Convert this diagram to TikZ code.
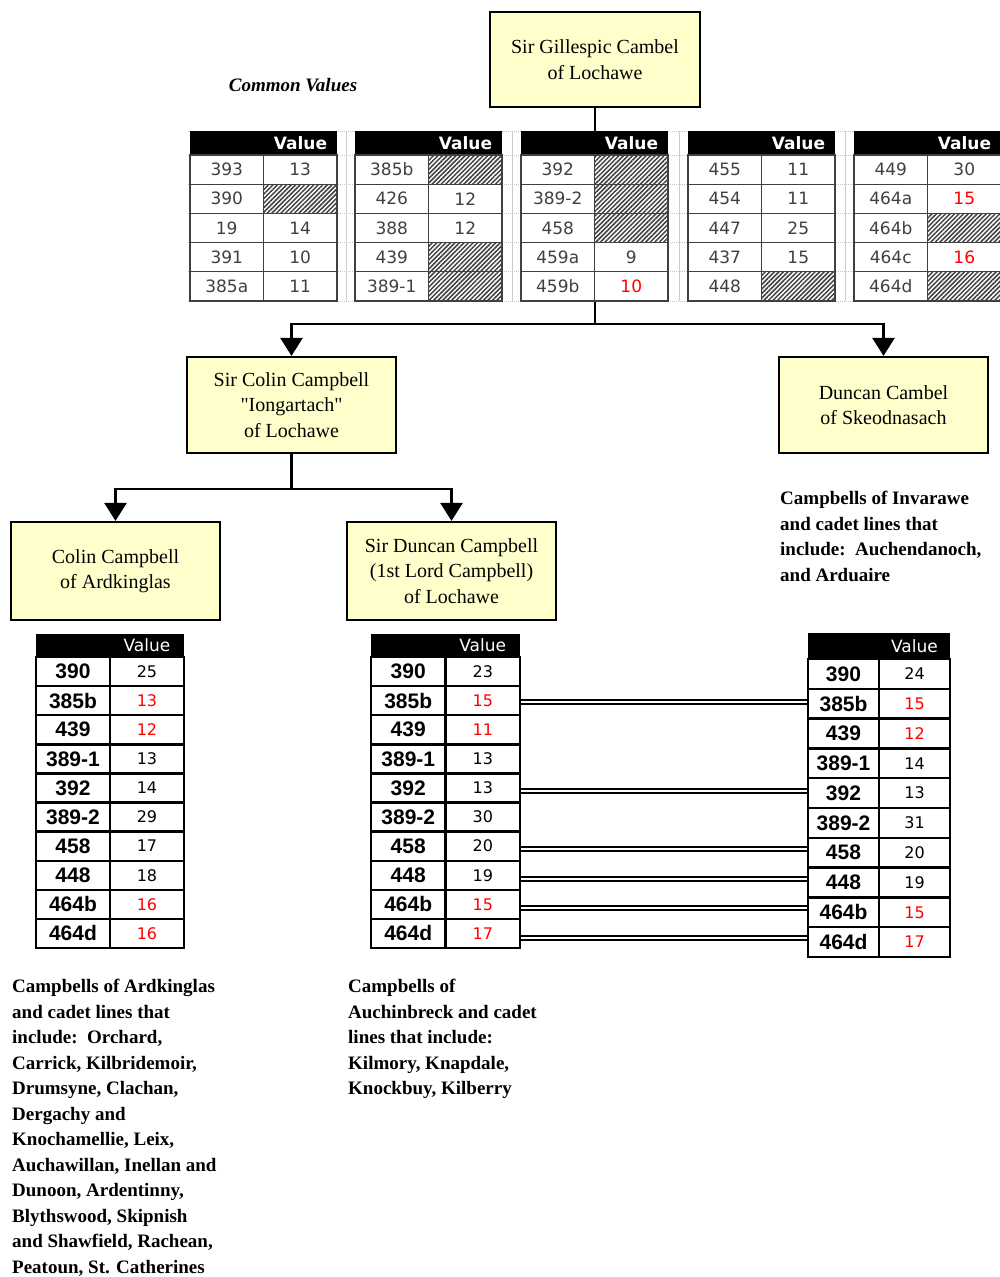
\documentclass[tikz,border=0pt]{standalone}
\usepackage{fontspec}
\setmainfont{Liberation Serif}
\newfontfamily\qfont{Liberation Serif}[Ligatures=ResetAll]
\newfontfamily\cellfont{DejaVu Sans}
\newfontfamily\labfont{Liberation Sans}
\usetikzlibrary{arrows.meta,patterns.meta,calc}
\definecolor{boxyellow}{RGB}{255,255,204}
\tikzset{
  person/.style={draw=black, line width=2.2pt, fill=boxyellow, align=center,
    font=\fontsize{20}{25.5}\selectfont, inner sep=0pt},
  conn/.style={line width=2.6pt},
  arr/.style={conn, -{Triangle[width=22pt,length=18pt]}},
  gridline/.style={gray!45, line width=0.8pt, dash pattern=on 1pt off 1pt},
  gridvert/.style={gray!40, line width=1pt},
  tophdr/.style={fill=black, minimum width=147pt, minimum height=24pt, inner sep=0pt},
  tophdrtxt/.style={text=white, inner sep=0pt, font=\cellfont\fontsize{17}{17}\selectfont\bfseries},
  topcell/.style={draw=black!75, line width=1.2pt, fill=white, minimum width=73.5pt,
    minimum height=29.2pt, inner sep=0pt, font=\cellfont\fontsize{17}{17}\selectfont, text=black!75},
  vk-n/.style={},
  vk-r/.style={text=red},
  vk-h/.style={preaction={fill=white}, pattern={Lines[angle=45,distance=3.2pt,line width=1.5pt]}, pattern color=black!75},
  lowhdr/.style={fill=black, inner sep=0pt},
  lowhdrtxt/.style={text=white, inner sep=0pt, font=\cellfont\fontsize{17}{17}\selectfont},
  lowlab/.style={draw=black, line width=2.4pt, fill=white, inner sep=0pt,
    font=\labfont\fontsize{21}{21}\selectfont\bfseries},
  lowval/.style={draw=black, line width=2.4pt, fill=white, inner sep=0pt,
    font=\cellfont\fontsize{16}{16}\selectfont, text=black},
  dbl/.style={line width=2pt, double, double distance=2pt},
  desc/.style={align=left, inner sep=0pt, anchor=north west, font=\fontsize{19}{25.5}\selectfont\bfseries},
}
\newcommand\TopTable[3]{%
  \node[tophdr] (#1h) at ({#2+73.5},143) {};
  \node[tophdrtxt] (#1hv) at ({#2+110.5},143) {Value};
  \foreach \lab/\val/\kind [count=\i] in {#3} {%
    \node[topcell] (#1l\i) at ({#2+36.75},{155+29.2*\i-14.6}) {\lab};
    \node[topcell, vk-\kind] (#1v\i) at ({#2+110.25},{155+29.2*\i-14.6}) {\val};
  }%
}
\newcommand\LowTable[7]{%
  \node[lowhdr, minimum width={2*#6}, minimum height=#4] (#1h) at ({#2+#6},{#3+#4/2}) {};
  \node[lowhdrtxt] (#1hv) at ({#2+1.5*#6},{#3+#4/2}) {Value};
  \foreach \lab/\val/\kind [count=\i] in {#7} {%
    \node[lowlab, minimum width=#6, minimum height=#5] (#1l\i) at ({#2+#6/2},{#3+#4+#5*(\i-0.5)}) {\lab};
    \node[lowval, vk-\kind, minimum width=#6, minimum height=#5] (#1v\i) at ({#2+1.5*#6},{#3+#4+#5*(\i-0.5)}) {\val};
  }%
}
\begin{document}
\begin{tikzpicture}[x=1pt,y=-1pt]
\useasboundingbox (0,0) rectangle (1000,1277);
% spreadsheet grid
\foreach \yy in {131,155,184.2,213.4,242.6,271.8,301}
  \draw[gridline] (188,\yy) -- (1000,\yy);
\foreach \xx in {346,512,679,845}
  \draw[gridvert] (\xx,131) -- (\xx,301);
% people
\node[person, minimum width=210pt, minimum height=95pt] (gill) at (595,59.5) {Sir Gillespic Cambel\\of Lochawe};
\node[person, minimum width=209pt, minimum height=96pt] (colin) at (291.5,405) {Sir Colin Campbell\\{\qfont"Iongartach"}\\of Lochawe};
\node[person, minimum width=209pt, minimum height=96pt] (skeod) at (883.5,405) {Duncan Cambel\\of Skeodnasach};
\node[person, minimum width=209pt, minimum height=98pt] (ardk) at (115.5,571) {Colin Campbell\\of Ardkinglas};
\node[person, minimum width=209pt, minimum height=98pt] (sirdun) at (451.5,571) {Sir Duncan Campbell\\(1st Lord Campbell)\\of Lochawe};
% connectors
\path (gill.south) ++(0,216) coordinate (j1);
\draw[conn] (gill.south) -- (j1);
\draw[arr] (j1) -| (colin.north);
\draw[arr] (j1) -| (skeod.north);
\path (colin.south) ++(0,35) coordinate (j2);
\draw[conn] (colin.south) -- (j2);
\draw[arr] (j2) -| (ardk.north);
\draw[arr] (j2) -| (sirdun.north);
% common values
\node[font=\fontsize{19}{19}\selectfont\bfseries\itshape] (cv) at (293,85) {Common Values};
\TopTable{ta}{190}{393/13/n, 390/{}/h, 19/14/n, 391/10/n, 385a/11/n}
\TopTable{tb}{355}{385b/{}/h, 426/12/n, 388/12/n, 439/{}/h, 389-1/{}/h}
\TopTable{tc}{521}{392/{}/h, 389-2/{}/h, 458/{}/h, 459a/9/n, 459b/10/r}
\TopTable{td}{688}{455/11/n, 454/11/n, 447/25/n, 437/15/n, 448/{}/h}
\TopTable{te}{854}{449/30/n, 464a/15/r, 464b/{}/h, 464c/16/r, 464d/{}/h}
% lower tables
\LowTable{la}{36}{634}{23}{29.1}{74}{390/25/n, 385b/13/r, 439/12/r, 389-1/13/n, 392/14/n, 389-2/29/n, 458/17/n, 448/18/n, 464b/16/r, 464d/16/r}
\LowTable{lb}{371}{634}{23}{29.1}{74.5}{390/23/n, 385b/15/r, 439/11/r, 389-1/13/n, 392/13/n, 389-2/30/n, 458/20/n, 448/19/n, 464b/15/r, 464d/17/r}
\LowTable{lc}{808}{633}{26}{29.8}{71}{390/24/n, 385b/15/r, 439/12/r, 389-1/14/n, 392/13/n, 389-2/31/n, 458/20/n, 448/19/n, 464b/15/r, 464d/17/r}
\foreach \r in {2,5,7,8,9,10}{
  \path ($(lbv\r.east)!0.5!(lcl\r.west)$) coordinate (m\r);
  \draw[dbl] (lbv\r.east |- m\r) -- (lcl\r.west |- m\r);
}
% descriptions
\node[desc] (invtxt) at (780,491) {Campbells of Invarawe\\and cadet lines that\\include:\ \ Auchendanoch,\\and Arduaire};
\node[desc] (ardtxt) at (12,979) {Campbells of Ardkinglas\\and cadet lines that\\include:\ \ Orchard,\\Carrick, Kilbridemoir,\\Drumsyne, Clachan,\\Dergachy and\\Knochamellie, Leix,\\Auchawillan, Inellan and\\Dunoon, Ardentinny,\\Blythswood, Skipnish\\and Shawfield, Rachean,\\Peatoun, St. Catherines};
\node[desc] (auchtxt) at (348,979) {Campbells of\\Auchinbreck and cadet\\lines that include:\\Kilmory, Knapdale,\\Knockbuy, Kilberry};
\end{tikzpicture}
\end{document}
